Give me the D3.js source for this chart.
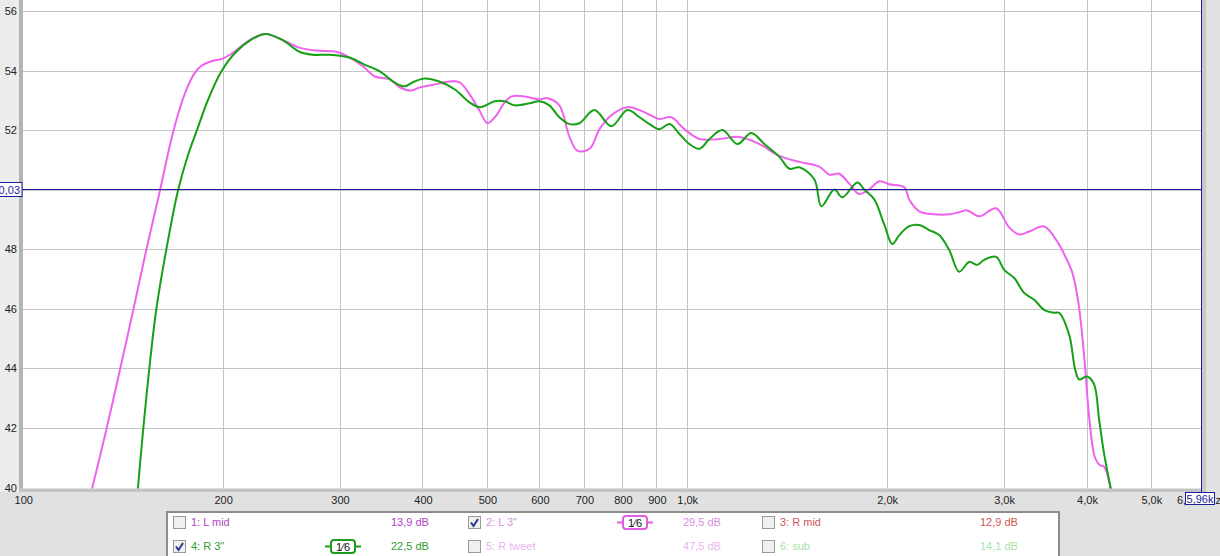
<!DOCTYPE html>
<html>
<head>
<meta charset="utf-8">
<script src="https://cdn.jsdelivr.net/npm/d3@7"></script>
<style>
  body { margin: 0; background: #e1e1e1; }
  text { font-family: "Liberation Sans", Arial, sans-serif; font-size: 11px; }
</style>
</head>
<body>
<div id="my_dataviz"></div>
<script>
// L 3" (magenta) response
var freqL = [127,133.5,140,146.6,153.4,161,167.3,172.5,176.8,181.1,185.6,192.8,199.6,207,220,232,246,261,277,297,311,327,339,357,370,385,396,417,439,455,471,488,501,514,532,545,570,600,617,643,666,685,714,739,770,814,849,894,910,948,992,1045,1120,1200,1287,1379,1478,1584,1640,1697,1757,1819,1883,1950,2018,2126,2163,2240,2359,2485,2572,2645,2757,2924,3059,3167,3279,3454,3638,3700,3810,3890,3970,4040,4120,4190,4250,4356];
var dbL = [39.9,41.9,43.92,45.93,47.95,49.99,51.67,52.75,53.42,53.89,54.16,54.33,54.4,54.6,55.04,55.24,55.04,54.78,54.68,54.64,54.44,54.11,53.81,53.71,53.44,53.34,53.44,53.54,53.64,53.61,53.21,52.64,52.24,52.44,52.94,53.14,53.14,53.04,53.08,52.84,51.78,51.31,51.38,52.04,52.51,52.78,52.68,52.44,52.38,52.44,52.04,51.71,51.71,51.78,51.54,51.14,50.94,50.78,50.51,50.54,50.21,49.86,50.02,50.29,50.19,50.09,49.68,49.28,49.18,49.18,49.25,49.31,49.11,49.38,48.74,48.5,48.6,48.77,48.16,47.85,47.2,46.2,44.35,42.3,41.0,40.75,40.7,39.9];

// R 3" (green) response
var freqR = [149,151.8,155,158.8,164.4,171.4,177.4,183,190.1,198.9,208.8,220.6,232,246,261,273,290,311,327,345,363,376,389,403,424,447,471,488,514,532,550,580,600,621,643,666,689,726,770,814,849,879,910,942,975,1009,1045,1082,1132,1192,1251,1309,1379,1428,1478,1557,1595,1668,1715,1807,1851,1916,1984,2040,2090,2163,2240,2319,2400,2485,2572,2663,2738,2805,2924,3007,3113,3222,3336,3454,3576,3638,3767,3846,3899,4008,4106,4178,4252,4356];
var dbR = [39.9,41.9,43.92,45.93,47.95,49.99,51.17,52.01,53.02,53.96,54.6,55.04,55.24,55.04,54.64,54.54,54.54,54.44,54.21,53.98,53.61,53.48,53.64,53.74,53.64,53.38,52.94,52.78,52.98,52.98,52.84,52.91,52.98,52.84,52.44,52.21,52.24,52.68,52.14,52.68,52.44,52.21,52.04,52.21,51.88,51.54,51.38,51.71,52.01,51.54,51.91,51.54,51.11,50.71,50.76,50.35,49.45,50.01,49.75,50.25,50.01,49.68,48.83,48.18,48.48,48.78,48.82,48.65,48.48,47.98,47.25,47.58,47.48,47.65,47.75,47.31,47.04,46.54,46.31,45.97,45.87,45.87,45.13,43.96,43.63,43.73,43.47,42.3,41.13,39.9];

// axis ticks
var yTicks = [40,42,44,46,48,50,52,54,56];
var xTicks = [100,200,300,400,500,600,700,800,900,1000,2000,3000,4000,5000];
var xTickLabels = ["100","200","300","400","500","600","700","800","900","1,0k","2,0k","3,0k","4,0k","5,0k"];
var cursorDb = 50.03;
var cursorLabelY = "50,03";
var cursorLabelX = "5,96k";

// legend
var legendNames = ["1: L mid","2: L 3\"","3: R mid","4: R 3\"","5: R tweet","6: sub"];
var legendValues = ["13,9 dB","29,5 dB","12,9 dB","22,5 dB","47,5 dB","14,1 dB"];
var legendColors = ["#b044c4","#d98ee2","#cf5656","#2f9e2f","#eab4ee","#a8e2a8"];
var legendChecked = [false,true,false,true,false,false];
var legendSmooth = [null,"#e05ce0",null,"#1e9a1e",null,null];

var W = 1220, H = 556;
var plot = {left: 23, right: 1202, top: 0, bottom: 488.5};
var cursorColor = "#1e1ea0";

var svg = d3.select("#my_dataviz")
  .append("svg")
    .attr("width", W)
    .attr("height", H);

svg.append("rect").attr("width", W).attr("height", H).attr("fill", "#e1e1e1");
svg.append("rect").attr("width", 20).attr("height", 492).attr("fill", "#ececec");

var x = d3.scaleLog().domain([100, 5960]).range([22.7, 1201.5]);
var y = d3.scaleLinear().domain([40, 56]).range([487.5, 11.3]);

// shadows round the plot
svg.append("rect").attr("x", 19).attr("y", 0).attr("width", 4).attr("height", 492).attr("fill", "#b4b4b4");
svg.append("rect").attr("x", 19).attr("y", 488).attr("width", 1187).attr("height", 4).attr("fill", "#c4c4c4");
svg.append("rect").attr("x", 1202).attr("y", 0).attr("width", 4).attr("height", 492).attr("fill", "#c8c8c8");

svg.append("rect")
  .attr("x", plot.left).attr("y", plot.top)
  .attr("width", plot.right - plot.left).attr("height", plot.bottom - plot.top)
  .attr("fill", "#fff");

svg.append("clipPath").attr("id", "clip")
  .append("rect")
  .attr("x", plot.left).attr("y", plot.top)
  .attr("width", plot.right - plot.left).attr("height", plot.bottom - plot.top);

// grid
svg.append("g").selectAll("line").data(xTicks.slice(1)).join("line")
  .attr("x1", d => Math.round(x(d)) + 0.5).attr("x2", d => Math.round(x(d)) + 0.5)
  .attr("y1", plot.top).attr("y2", plot.bottom)
  .attr("stroke", "#c4c4c4");
svg.append("g").selectAll("line").data(yTicks.slice(1)).join("line")
  .attr("x1", plot.left).attr("x2", plot.right)
  .attr("y1", d => Math.round(y(d)) + 0.5).attr("y2", d => Math.round(y(d)) + 0.5)
  .attr("stroke", "#c4c4c4");

// y labels
svg.append("g").selectAll("text").data(yTicks).join("text")
  .attr("x", 17).attr("y", d => y(d) + 4)
  .attr("text-anchor", "end").attr("fill", "#222")
  .text(d => d);

// x labels
svg.append("g").selectAll("text").data(xTicks).join("text")
  .attr("x", d => x(d) + 1).attr("y", 504)
  .attr("text-anchor", "middle").attr("fill", "#222")
  .text((d, i) => xTickLabels[i]);
svg.append("text").attr("x", 1177).attr("y", 504).attr("fill", "#222").text("6,0k");
svg.append("text").attr("x", 1221).attr("y", 504).attr("text-anchor", "end").attr("fill", "#222").text("Hz");

// curves
var lineGen = d3.line()
  .x(d => x(d[0]))
  .y(d => y(d[1]))
  .curve(d3.curveCatmullRom.alpha(0.5));

var g = svg.append("g").attr("clip-path", "url(#clip)");
g.append("path")
  .datum(freqL.map((f, i) => [f, dbL[i]]))
  .attr("fill", "none").attr("stroke", "#ee62ee").attr("stroke-width", 2)
  .attr("d", lineGen);
g.append("path")
  .datum(freqR.map((f, i) => [f, dbR[i]]))
  .attr("fill", "none").attr("stroke", "#15a015").attr("stroke-width", 2)
  .attr("d", lineGen);

// cursors
var cy = Math.round(y(cursorDb)) + 0.5;
svg.append("line").attr("x1", 0).attr("x2", plot.right).attr("y1", cy).attr("y2", cy)
  .attr("stroke", cursorColor);
svg.append("line").attr("x1", 1201.5).attr("x2", 1201.5).attr("y1", 0).attr("y2", 493)
  .attr("stroke", cursorColor);
svg.append("rect").attr("x", -2).attr("y", cy - 7).attr("width", 24).attr("height", 14)
  .attr("fill", "#fff").attr("stroke", cursorColor);
svg.append("text").attr("x", 20).attr("y", cy + 4).attr("text-anchor", "end")
  .attr("fill", cursorColor).text(cursorLabelY);
svg.append("rect").attr("x", 1185.5).attr("y", 492.5).attr("width", 29).attr("height", 12)
  .attr("fill", "#fff").attr("stroke", cursorColor);
svg.append("text").attr("x", 1200).attr("y", 502.5).attr("text-anchor", "middle")
  .attr("fill", cursorColor).text(cursorLabelX);

// legend panel
svg.append("rect").attr("x", 166).attr("y", 511).attr("width", 894).attr("height", 60).attr("fill", "#8c8c8c");
svg.append("rect").attr("x", 168).attr("y", 513).attr("width", 890).attr("height", 60).attr("fill", "#fff");

var colX = [173, 468, 762];
var valX = [391, 683, 980];
var rowY = [522, 546];

legendNames.forEach(function(name, i) {
  var c = i % 3, r = Math.floor(i / 3);
  var lg = svg.append("g").attr("transform", "translate(" + colX[c] + "," + rowY[r] + ")");
  lg.append("rect").attr("x", 0.5).attr("y", -5.5).attr("width", 12).attr("height", 12)
    .attr("fill", "#f0f0f0").attr("stroke", "#9a9a9a");
  if (legendChecked[i]) {
    lg.append("path").attr("d", "M3,0.5 L5.5,4 L10,-3").attr("fill", "none")
      .attr("stroke", "#2a3a8a").attr("stroke-width", 2);
  }
  lg.append("text").attr("x", 18).attr("y", 4).attr("fill", legendColors[i]).text(name);
  svg.append("text").attr("x", valX[c]).attr("y", rowY[r] + 4).attr("fill", legendColors[i]).text(legendValues[i]);
  if (legendSmooth[i]) {
    var bx = c === 0 ? 325 : 617;
    var sg = svg.append("g").attr("transform", "translate(" + bx + "," + rowY[r] + ")");
    sg.append("line").attr("x1", 0).attr("x2", 36).attr("y1", 0.5).attr("y2", 0.5)
      .attr("stroke", legendSmooth[i]).attr("stroke-width", 2);
    sg.append("rect").attr("x", 6).attr("y", -6).attr("width", 24).attr("height", 13).attr("rx", 3)
      .attr("fill", "#fff").attr("stroke", legendSmooth[i]).attr("stroke-width", 2);
    sg.append("text").attr("x", 18).attr("y", 4.5).attr("text-anchor", "middle")
      .attr("fill", "#111").text("1\u20446");
  }
});
</script>
</body>
</html>
